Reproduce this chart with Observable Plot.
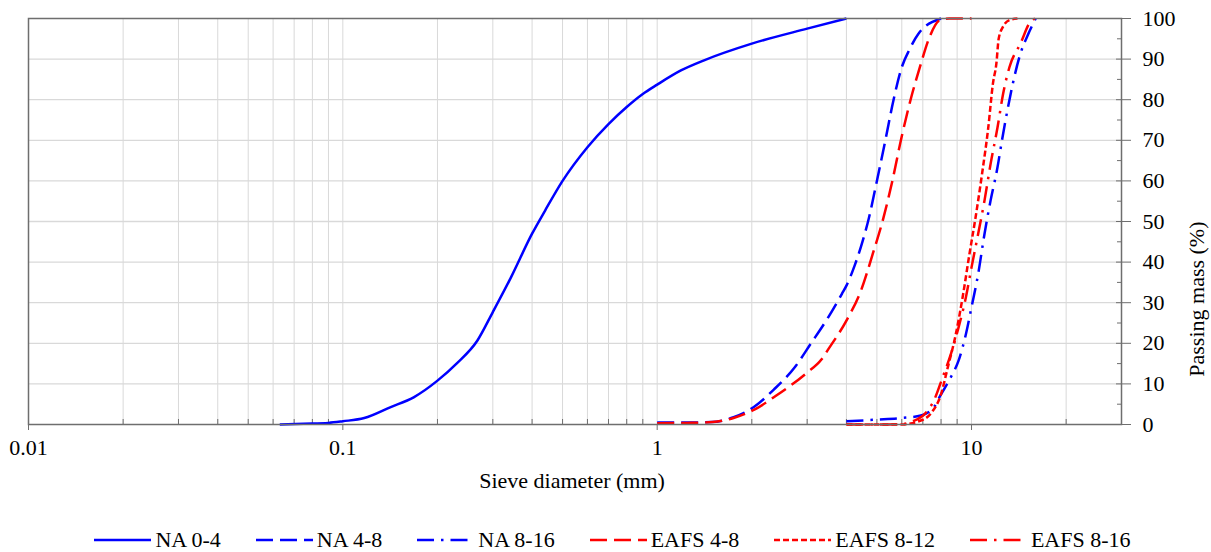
<!DOCTYPE html>
<html>
<head>
<meta charset="utf-8">
<script src="https://cdn.jsdelivr.net/npm/d3@7"></script>
<script src="https://cdn.jsdelivr.net/npm/@observablehq/plot@0.6"></script>
<style>
  html, body { margin: 0; padding: 0; background: #fff; }
  #chart { width: 1211px; font-family: "Liberation Serif", "Times New Roman", serif; }
  #chart svg { display: block; }
  .legend {
    display: flex; justify-content: center; align-items: center;
    gap: 35px; height: 24px; margin-top: 18px; padding-left: 14px;
    font-size: 22px; line-height: 24px; color: #000;
  }
  .legend .item { display: flex; align-items: center; white-space: nowrap; }
  .legend svg { margin-right: 4px; }
</style>
</head>
<body>
<div id="chart"></div>
<script>
// Grading curves: sieve diameter (mm) vs passing mass (%)
const na04Size = [0.063, 0.075, 0.09, 0.1, 0.117, 0.142, 0.168, 0.2, 0.23, 0.268, 0.3, 0.343, 0.4, 0.44, 0.5, 0.6, 0.7, 0.8, 0.9, 1.0, 1.19, 1.41, 2, 3, 4];
const na04Pass = [0, 0.2, 0.4, 0.8, 1.6, 4.3, 6.7, 10.8, 15, 20.7, 27.7, 36.3, 47, 52.7, 60, 68.3, 74, 78.2, 81.4, 83.7, 87.2, 89.7, 93.8, 97.5, 100];

const na48Size = [1, 1.25, 1.49, 1.75, 2.03, 2.35, 2.74, 3.08, 3.5, 3.87, 4.0, 4.25, 4.45, 4.72, 5.0, 5.32, 5.65, 6.0, 6.36, 6.77, 8];
const na48Pass = [0.5, 0.5, 0.6, 1.8, 4.3, 8.6, 14.1, 19.9, 26.4, 32.2, 34.2, 39.2, 43.8, 51, 60, 70, 80, 88, 92.5, 96.2, 100];

const na816Size = [4, 5, 6, 6.9, 7.6, 7.9, 8.6, 9.1, 9.6, 10, 10.5, 11, 11.5, 12.1, 12.5, 13, 13.6, 14.3, 15, 16];
const na816Pass = [0.8, 1.2, 1.6, 2.2, 4.3, 6.7, 11.7, 15.8, 22.3, 28.9, 37.1, 47, 55.2, 63.4, 70, 77.3, 84.7, 91.3, 95.4, 100];

const eafs48Size = [1, 1.25, 1.5, 1.75, 2.03, 2.4, 3.0, 3.33, 3.5, 4.0, 4.45, 4.85, 5.25, 5.6, 6.0, 6.4, 6.85, 7.35, 7.9, 8.5, 10];
const eafs48Pass = [0.3, 0.4, 0.6, 1.6, 3.6, 7.2, 12.8, 16, 18.5, 25.6, 33, 42, 51, 60, 71, 80, 88, 95.4, 99.5, 100, 100];

const eafs812Size = [4, 5, 6, 6.8, 7.4, 8.0, 8.4, 8.9, 9.4, 9.85, 10.3, 10.8, 11.3, 11.7, 12.0, 12.2, 12.6, 13.2, 14];
const eafs812Pass = [0, 0, 0, 0.8, 2.6, 7.5, 14, 22, 32, 42, 51, 61.7, 73, 84, 89, 95, 98, 99.6, 100];

const eafs816Size = [4, 5, 6, 6.5, 7.1, 7.6, 8.1, 8.6, 9.1, 9.6, 10, 10.5, 11, 11.5, 12.1, 12.6, 13.2, 14.3, 15.5, 16];
const eafs816Pass = [0, 0, 0.1, 0.8, 2.6, 6, 11.7, 17.4, 24, 31.4, 38.7, 47, 55.2, 64.2, 73.2, 81.4, 88, 93.8, 99.5, 100];

const seriesNames = ["NA 0-4", "NA 4-8", "NA 8-16", "EAFS 4-8", "EAFS 8-12", "EAFS 8-16"];
const seriesColors = ["#0000ff", "#0000ff", "#0000ff", "#ff0000", "#ff0000", "#ff0000"];
const seriesDashes = [null, "17,7", "17,7,2.5,7", "17,7", "6,3", "17,7,2.5,7"];
const seriesSizes = [na04Size, na48Size, na816Size, eafs48Size, eafs812Size, eafs816Size];
const seriesPass = [na04Pass, na48Pass, na816Pass, eafs48Pass, eafs812Pass, eafs816Pass];

// Axis ticks
const xLabelTicks = [0.01, 0.1, 1, 10];
const yLabelTicks = [0, 10, 20, 30, 40, 50, 60, 70, 80, 90, 100];

const xMinor = xLabelTicks.flatMap(d => d3.range(2, 10).map(k => +(k * d).toPrecision(3))).filter(v => v < 30);
const xGrid = xMinor.concat([0.1, 1, 10]);
const yGrid = yLabelTicks.filter(v => v > 0 && v < 100);
const yMinor = yLabelTicks.slice(0, -1).map(v => v + 5);

const axisGray = "#6e6e6e";
const gridGray = "#d9d9d9";
const fontPx = 22;

const lineMarks = seriesNames.map((name, i) => {
  const rows = seriesSizes[i].map((s, j) => ({size: s, pass: seriesPass[i][j]}));
  return Plot.line(rows, {
    x: "size", y: "pass",
    stroke: seriesColors[i],
    strokeWidth: 2.5,
    strokeDasharray: seriesDashes[i] || undefined,
    strokeLinecap: "butt",
    curve: "monotone-x"
  });
});

const chart = Plot.plot({
  width: 1211,
  height: 510,
  marginLeft: 28,
  marginRight: 90,
  marginTop: 18,
  marginBottom: 86,
  style: {fontFamily: '"Liberation Serif", "Times New Roman", serif', fontSize: fontPx + "px", color: "#000", background: "#fff"},
  x: {type: "log", domain: [0.01, 30]},
  y: {domain: [0, 100]},
  marks: [
    Plot.ruleX(xGrid, {stroke: gridGray, strokeWidth: 1}),
    Plot.ruleY(yGrid, {stroke: gridGray, strokeWidth: 1.3}),
    // x axis: labelled decade ticks below, minor ticks inside
    Plot.axisX({ticks: xLabelTicks, tickSize: 6, tickPadding: 9, tickFormat: d => String(d), stroke: axisGray, fill: "#000", fontSize: fontPx, label: null}),
    Plot.axisX({ticks: xMinor, tickSize: 5, dy: -5, tickFormat: () => "", stroke: axisGray, label: null}),
    // y axis on the right: crossing major ticks, inner minor ticks
    Plot.axisY({anchor: "right", ticks: yLabelTicks, tickSize: 9, tickPadding: 12, tickFormat: d => String(d), stroke: axisGray, fill: "#000", fontSize: fontPx, label: null}),
    Plot.axisY({anchor: "right", ticks: yLabelTicks, tickSize: 6, dx: -6, tickFormat: () => "", stroke: axisGray, label: null}),
    Plot.axisY({anchor: "right", ticks: yMinor, tickSize: 5, dx: -5, tickFormat: () => "", stroke: axisGray, label: null}),
    ...lineMarks,
    Plot.frame({stroke: axisGray, strokeWidth: 1.5}),
    Plot.text(["Sieve diameter (mm)"], {frameAnchor: "bottom", dy: 63, dx: -3, fontSize: fontPx, fill: "#000"}),
    Plot.text(["Passing mass (%)"], {frameAnchor: "right", dx: 75, rotate: -90, fontSize: fontPx, fill: "#000"})
  ]
});

const container = document.getElementById("chart");
container.appendChild(chart);

// Legend below the plot
const legend = document.createElement("div");
legend.className = "legend";
seriesNames.forEach((name, i) => {
  const item = document.createElement("div");
  item.className = "item";
  const sw = d3.create("svg").attr("width", 57).attr("height", 12);
  sw.append("line")
    .attr("x1", 0).attr("x2", 57).attr("y1", 6).attr("y2", 6)
    .attr("stroke", seriesColors[i]).attr("stroke-width", 2.5)
    .attr("stroke-dasharray", seriesDashes[i]);
  item.appendChild(sw.node());
  const label = document.createElement("span");
  label.textContent = name;
  item.appendChild(label);
  legend.appendChild(item);
});
container.appendChild(legend);
</script>
</body>
</html>
